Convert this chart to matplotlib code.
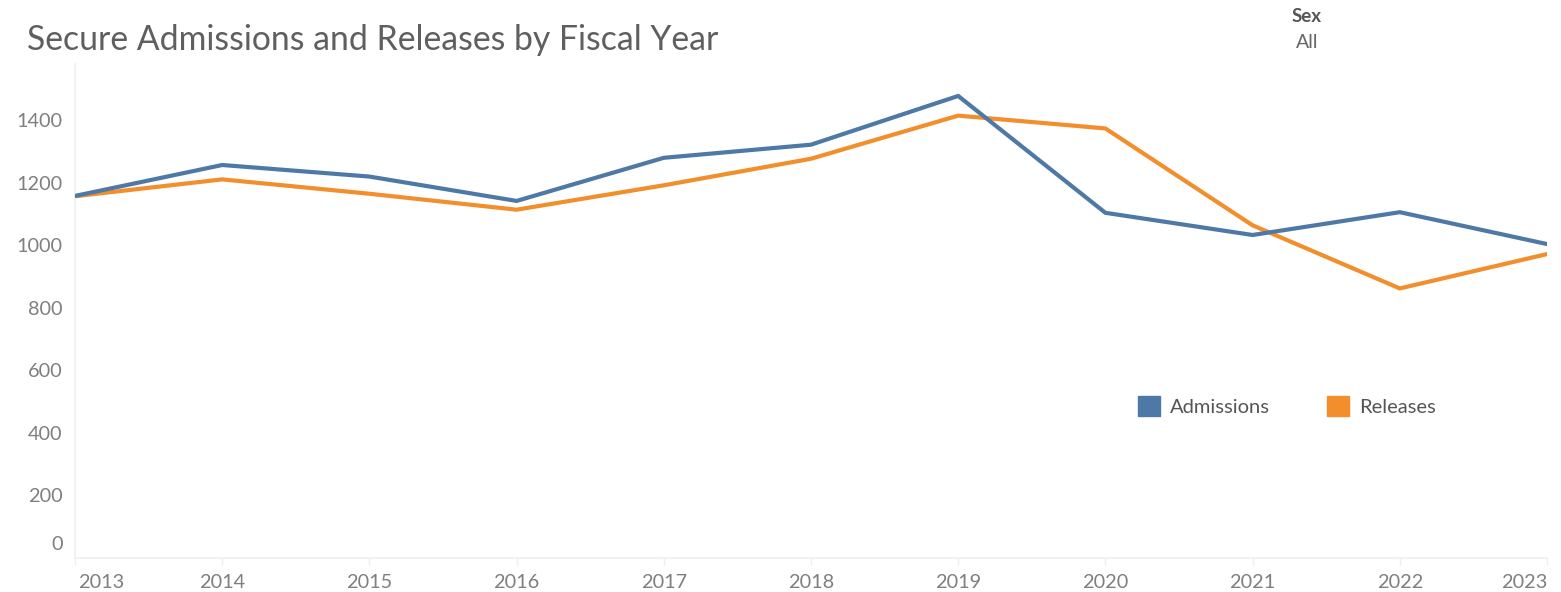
import matplotlib
matplotlib.use("Agg")
import matplotlib.pyplot as plt
from matplotlib.patches import Patch
from matplotlib.transforms import ScaledTranslation

plt.rcParams['font.family'] = ['Lato', 'DejaVu Sans']

# ---- data ----
years = [2013, 2014, 2015, 2016, 2017, 2018, 2019, 2020, 2021, 2022, 2023]
admissions = [1157, 1256, 1219, 1141, 1279, 1321, 1477, 1103, 1032, 1105, 1003]
releases = [1156, 1210, 1164, 1113, 1191, 1276, 1414, 1373, 1063, 861, 971]
yticks = [0, 200, 400, 600, 800, 1000, 1200, 1400]

blue = '#4e79a7'
orange = '#f28e2b'
grey_txt = '#7f7f7f'
axis_grey = '#efefef'

W, H = 1561, 592
fig = plt.figure(figsize=(W / 100, H / 100), dpi=100)
left, right = 75 / W, 1547 / W
bottom = (H - 557.5) / H
top = 1 - 63.75 / H
ax = fig.add_axes([left, bottom, right - left, top - bottom])

ax.plot(years, admissions, color=blue, linewidth=3, solid_joinstyle='miter', zorder=3)
ax.plot(years, releases, color=orange, linewidth=3, solid_joinstyle='miter', zorder=2)

ax.set_xlim(2013, 2023)
ax.set_ylim(0, 1580)
ax.set_yticks(yticks)
ax.set_xticks(years)
ax.set_xticklabels([str(y) for y in years])
for i, lbl in enumerate(ax.get_xticklabels()):
    if i == 0:
        lbl.set_ha('left')
    elif i == len(years) - 1:
        lbl.set_ha('right')

for sp in ['top', 'right']:
    ax.spines[sp].set_visible(False)
for sp in ['left', 'bottom']:
    ax.spines[sp].set_color(axis_grey)
    ax.spines[sp].set_linewidth(1.2)

ax.tick_params(axis='y', length=0, pad=9, labelsize=14.3, labelcolor=grey_txt)
ax.tick_params(axis='x', length=5, width=1, color=axis_grey, pad=7,
               labelsize=14.3, labelcolor=grey_txt)

# Tableau lifts the bottom "0" label off the baseline
zero_lbl = ax.yaxis.get_major_ticks()[0].label1
zero_lbl.set_transform(zero_lbl.get_transform()
                       + ScaledTranslation(0, 0.14, fig.dpi_scale_trans))
# and nudges the first year label in from the edge
first_x = ax.xaxis.get_major_ticks()[0].label1
first_x.set_transform(first_x.get_transform()
                      + ScaledTranslation(0.03, 0, fig.dpi_scale_trans))

# title and filter caption
fig.text(27 / W, 1 - 40 / H, 'Secure Admissions and Releases by Fiscal Year',
         fontsize=24.3, color='#5f5f5f', va='center', ha='left')
fig.text(1307 / W, 1 - 17 / H, 'Sex', fontsize=13.5, color='#555555',
         fontweight='bold', va='center', ha='center')
fig.text(1307 / W, 1 - 43 / H, 'All', fontsize=14, color='#666666',
         va='center', ha='center')

handles = [Patch(facecolor=blue, edgecolor=blue, label='Admissions'),
           Patch(facecolor=orange, edgecolor=orange, label='Releases')]
leg = fig.legend(handles=handles, loc='center left',
                 bbox_to_anchor=(1138 / W, 1 - 406 / H), ncol=2, frameon=False,
                 handlelength=1.1, handleheight=1.1, handletextpad=0.5,
                 columnspacing=2.8, fontsize=14.5, borderpad=0, borderaxespad=0)
for t in leg.get_texts():
    t.set_color('#555555')

fig.savefig('out.png', dpi=100)
